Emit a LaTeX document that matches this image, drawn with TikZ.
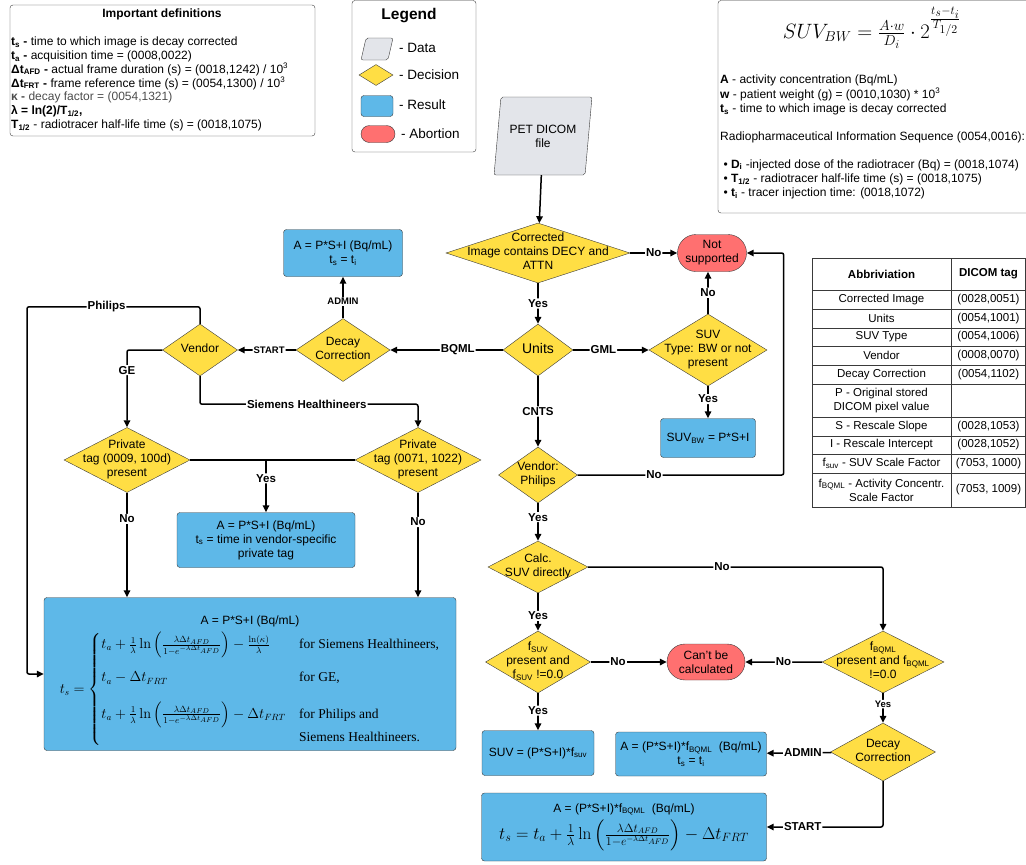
\documentclass[tikz,border=0pt]{standalone}
\usepackage{amsmath}
\usepackage[no-math]{fontspec}
\setmainfont{Liberation Sans}
\newfontfamily\serifcases{Liberation Serif}
\usepackage{tikz}
\usetikzlibrary{shapes.geometric, shapes.misc, arrows.meta}
\definecolor{decyellow}{RGB}{255, 222, 68}
\definecolor{resblue}{RGB}{94, 184, 232}
\definecolor{abortred}{RGB}{255, 112, 112}
\definecolor{datagray}{RGB}{227, 229, 234}
\definecolor{edgegray}{RGB}{58, 58, 58}
% diamond text that does not widen the diamond
\newcommand{\dectext}[1]{\makebox[0pt]{\begin{tabular}{@{}c@{}}#1\end{tabular}}}

\begin{document}
\begin{tikzpicture}[x=1pt, y=-1pt, font=\fontsize{12}{14}\selectfont,
  decision/.style 2 args={diamond, draw=edgegray, fill=decyellow, inner sep=0pt, minimum width=#1, minimum height=#2},
  result/.style 2 args={rectangle, rounded corners=3pt, draw=edgegray, fill=resblue, align=center, inner sep=1pt, minimum width=#1, minimum height=#2},
  abortion/.style 2 args={rounded rectangle, draw=edgegray, fill=abortred, align=center, inner sep=1pt, minimum width=#1, minimum height=#2},
  datafile/.style 2 args={trapezium, trapezium left angle=77, trapezium right angle=103, trapezium stretches=true, draw=edgegray, fill=datagray, rounded corners=2pt, align=center, inner sep=1pt, minimum width=#1, minimum height=#2},
  infobox/.style={draw=edgegray, rounded corners=3pt},
  tabline/.style={draw=edgegray, line width=0.8pt},
  tabtext/.style={align=center, inner sep=0pt, font=\fontsize{11.5}{14}\selectfont},
  conn/.style={line width=1.5pt, rounded corners=2pt},
  arr/.style={conn, -{Triangle[length=7pt, width=6.5pt]}},
  lbl/.style={fill=white, inner sep=1pt, font=\fontsize{11.5}{13}\selectfont\bfseries},
  smalllbl/.style={lbl, font=\fontsize{9.5}{11}\selectfont\bfseries}
]
  \useasboundingbox (0,0) rectangle (1026,865);

  % Important definitions
  \draw[infobox] (10,5) rectangle (315,136);
  \node[font=\fontsize{12}{14}\selectfont\bfseries] (defstitle) at (162,14) {Important definitions};
  \node[anchor=north west, align=left, inner sep=0pt, font=\fontsize{12}{13.9}\selectfont] (defs) at (11,36.5) {
    \textbf{t\textsubscript{s} -} time to which image is decay corrected\\
    \textbf{t\textsubscript{a} -} acquisition time = (0008,0022)\\
    \textbf{Δt\textsubscript{AFD} -} actual frame duration (s) = (0018,1242) / 10\textsuperscript{3}\\
    \textbf{Δt\textsubscript{FRT} -} frame reference time (s) = (0054,1300) / 10\textsuperscript{3}\\
    \textcolor{black!70}{\textbf{κ -} decay factor = (0054,1321)}\\
    \textbf{λ = ln(2)/T\textsubscript{1/2},}\\
    \textbf{T\textsubscript{1/2}} - radiotracer half-life time (s) = (0018,1075)
  };

  % Legend
  \draw[infobox] (352,0.5) rectangle (476,152);
  \node[font=\fontsize{15.5}{18}\selectfont\bfseries] (legtitle) at (409,16) {Legend};
  \node[datafile={32}{22}] (legdata) at (377,49) {};
  \node[anchor=west, inner sep=0pt, font=\fontsize{13.5}{16}\selectfont] (legdatatxt) at (399,48) {- Data};
  \node[decision={34}{21}] (legdec) at (376,75) {};
  \node[anchor=west, inner sep=0pt, font=\fontsize{13.5}{16}\selectfont] (legdectxt) at (399,75) {- Decision};
  \node[result={32}{21}] (legres) at (377,106) {};
  \node[anchor=west, inner sep=0pt, font=\fontsize{13.5}{16}\selectfont] (legrestxt) at (399,105) {- Result};
  \node[abortion={36}{17}] (legabort) at (378,134) {};
  \node[anchor=west, inner sep=0pt, font=\fontsize{13.5}{16}\selectfont] (legaborttxt) at (401,134) {- Abortion};

  % SUV definition
  \draw[infobox] (718,0.5) rectangle (1040,213);
  \node (suvformula) at (872,28) {\fontsize{20.74}{25}\selectfont $SUV_{BW} = \tfrac{A\cdot w}{D_i}\cdot 2^{\frac{t_s-t_i}{T_{1/2}}}$};
  \node[anchor=north west, align=left, inner sep=0pt, font=\fontsize{12}{14.3}\selectfont] (suvdefs) at (720,75) {
    \textbf{A} - activity concentration (Bq/mL)\\
    \textbf{w} - patient weight (g) = (0010,1030) * 10\textsuperscript{3}\\
    \textbf{t\textsubscript{s}} - time to which image is decay corrected\\[14pt]
    Radiopharmaceutical Information Sequence (0054,0016):\\[13pt]
    \ \textbullet\ \textbf{D\textsubscript{i}} -injected dose of the radiotracer (Bq) = (0018,1074)\\
    \ \textbullet\ \textbf{T\textsubscript{1/2}} - radiotracer half-life time (s) = (0018,1075)\\
    \ \textbullet\ \textbf{t\textsubscript{i}} - tracer injection time: (0018,1072)
  };

  % Abbreviation table
  \draw[tabline] (812,258) rectangle (1025,507);
  \draw[tabline] (951,258) -- (951,507);
  \node[tabtext, font=\fontsize{11.5}{14}\selectfont\bfseries] (abbrhead) at (881.5,274) {Abbriviation};
  \node[tabtext, font=\fontsize{11.5}{14}\selectfont\bfseries] (taghead) at (988.5,274) {DICOM tag};
  \foreach \yc/\yt/\abbr/\tag [count=\i] in {
      299.5/290/{Corrected Image}/{(0028,0051)},
      318.5/309/{Units}/{(0054,1001)},
      337/328/{SUV Type}/{(0054,1006)},
      355.5/346/{Vendor}/{(0008,0070)},
      374.5/365/{Decay Correction}/{(0054,1102)},
      400.5/384/{P - Original stored\\DICOM pixel value}/{},
      426.5/417/{S - Rescale Slope}/{(0028,1053)},
      445/436/{I - Rescale Intercept}/{(0028,1052)},
      463.5/454/{f\textsubscript{suv} - SUV Scale Factor}/{(7053, 1000)},
      490/473/{f\textsubscript{BQML} - Activity Concentr.\\Scale Factor}/{(7053, 1009)}} {
    \draw[tabline] (812,\yt) -- (1025,\yt);
    \node[tabtext] (abbr\i) at (881.5,\yc) {\abbr};
    \node[tabtext] (tag\i) at (988.5,\yc) {\tag};
  }

  % Main flow
  \node[datafile={98}{78}] (pet) at (543,136) {PET DICOM\\file};
  \node[decision={184}{60}] (corr) at (538,253) {\dectext{Corrected\\Image contains DECY and\\ATTN}};
  \node[abortion={71}{37}] (notsup) at (712,253) {Not\\supported};
  \node[decision={70}{52}, font=\fontsize{14}{16}\selectfont] (units) at (538,350) {\dectext{Units}};
  \node[decision={118}{72}] (suv) at (708,350) {\dectext{SUV\\Type: BW or not\\present}};
  \node[result={95}{39}] (suvbw) at (708,438) {SUV\textsubscript{BW} = P*S+I};
  \node[decision={79}{56}] (vphil) at (538,475) {\dectext{Vendor:\\Philips}};
  \node[decision={100}{52}] (calc) at (538,567) {\dectext{Calc.\\SUV directly}};
  \node[decision={105}{62}] (fsuv) at (538,662) {\dectext{f\textsubscript{SUV}\\present and\\f\textsubscript{SUV} !=0.0}};
  \node[abortion={80}{36}] (cant) at (706,662) {Can't be\\calculated};
  \node[decision={122}{62}] (fbqml) at (883,662) {\dectext{f\textsubscript{BQML}\\present and f\textsubscript{BQML}\\!=0.0}};
  \node[result={112}{45}] (suvres) at (538,753) {SUV = (P*S+I)*f\textsubscript{suv}};
  \node[decision={105}{58}] (dec2) at (883,752) {\dectext{Decay\\Correction}};
  \node[result={151}{44}] (bqres) at (691,754) {A = (P*S+I)*f\textsubscript{BQML}~ (Bq/mL)\\t\textsubscript{s} = t\textsubscript{i}};
  \node[result={285}{68}] (final) at (624,827) {A = (P*S+I)*f\textsubscript{BQML}~ (Bq/mL)\\[3pt]
    {\fontsize{17}{20}\selectfont $t_s = t_a + \frac{1}{\lambda}\ln\left(\frac{\lambda\Delta t_{AFD}}{1-e^{-\lambda\Delta t_{AFD}}}\right) - \Delta t_{FRT}$}};

  % Vendor branch
  \node[decision={94}{63}] (dec1) at (343,350) {\dectext{Decay\\Correction}};
  \node[result={119}{47}] (res1) at (343,253) {A = P*S+I (Bq/mL)\\t\textsubscript{s} = t\textsubscript{i}};
  \node[decision={75}{52}] (vendor) at (200,350) {\dectext{Vendor}};
  \node[decision={126}{65}] (pt1) at (127,460) {\dectext{Private\\tag (0009, 100d)\\present}};
  \node[decision={126}{65}] (pt2) at (418,460) {\dectext{Private\\tag (0071, 1022)\\present}};
  \node[result={178}{55}] (vsp) at (266,540) {A = P*S+I (Bq/mL)\\t\textsubscript{s} = time in vendor-specific\\private tag};
  \node[result={412}{153}] (big) at (250,674) {\rule{0pt}{24pt}A = P*S+I (Bq/mL)\\[4pt]
    {\fontsize{13.5}{16}\selectfont $t_s = \begin{cases}
      t_a + \frac{1}{\lambda}\ln\left(\frac{\lambda\Delta t_{AFD}}{1-e^{-\lambda\Delta t_{AFD}}}\right) - \frac{\ln(\kappa)}{\lambda} & \text{\serifcases for Siemens Healthineers,}\\[14pt]
      t_a - \Delta t_{FRT} & \text{\serifcases for GE,}\\[14pt]
      t_a + \frac{1}{\lambda}\ln\left(\frac{\lambda\Delta t_{AFD}}{1-e^{-\lambda\Delta t_{AFD}}}\right) - \Delta t_{FRT} & \text{\serifcases for Philips and}\\[4pt]
      & \text{\serifcases Siemens Healthineers.}
    \end{cases}$}};

  % Connectors
  \draw[arr] (pet) -- (corr);
  \draw[arr] (corr) -- node[lbl]{No} (notsup);
  \draw[arr] (corr) -- node[lbl]{Yes} (units);
  \draw[arr] (units) -- node[lbl, pos=0.4]{GML} (suv);
  \draw[arr] (suv.north) -- node[lbl]{No} (suv.north |- notsup.south);
  \draw[arr] (suv) -- node[lbl, pos=0.4]{Yes} (suvbw);
  \draw[arr] (units) -- node[lbl]{CNTS} (vphil);
  \draw[arr] (vphil.east) -- node[lbl, pos=0.37]{No} ++(206,0) |- (notsup.east);
  \draw[arr] (vphil) -- node[lbl, pos=0.37]{Yes} (calc);
  \draw[arr] (calc.east) -| node[lbl, pos=0.227]{No} (fbqml.north);
  \draw[arr] (calc) -- node[lbl, pos=0.6]{Yes} (fsuv);
  \draw[arr] (fsuv) -- node[lbl, pos=0.36]{No} (cant);
  \draw[arr] (fbqml) -- node[lbl]{No} (cant);
  \draw[arr] (fsuv) -- node[lbl, pos=0.47]{Yes} (suvres);
  \draw[arr] (fbqml) -- node[smalllbl, pos=0.37]{Yes} (dec2);
  \draw[arr] (dec2) -- node[lbl, pos=0.44]{ADMIN} (bqres);
  \draw[arr] (dec2.south) |- node[lbl, pos=0.845]{START} (final.east);

  \draw[arr] (units) -- node[lbl, pos=0.4]{BQML} (dec1);
  \draw[arr] (dec1) -- node[smalllbl, pos=0.4]{ADMIN} (res1);
  \draw[arr] (dec1) -- node[smalllbl, pos=0.46]{START} (vendor);
  \draw[arr] (vendor.north) -- ++(0,-17) -- node[lbl, pos=0.54]{Philips} ++(-173,0) |- (big.west);
  \draw[arr] (vendor.west) -| node[lbl, pos=0.63]{GE} (pt1.north);
  \draw[arr] (vendor.south) -- ++(0,28) -| node[lbl, pos=0.245]{Siemens Healthineers} (pt2.north);
  \draw[conn] (pt1.east) -- (pt2.west);
  \draw[arr] (pt1.east -| vsp.north) -- node[lbl, pos=0.35]{Yes} (vsp.north);
  \draw[arr] (pt1.south) -- node[lbl, pos=0.25]{No} (pt1.south |- big.north);
  \draw[arr] (pt2.south) -- node[lbl, pos=0.28]{No} (pt2.south |- big.north);
\end{tikzpicture}
\end{document}
